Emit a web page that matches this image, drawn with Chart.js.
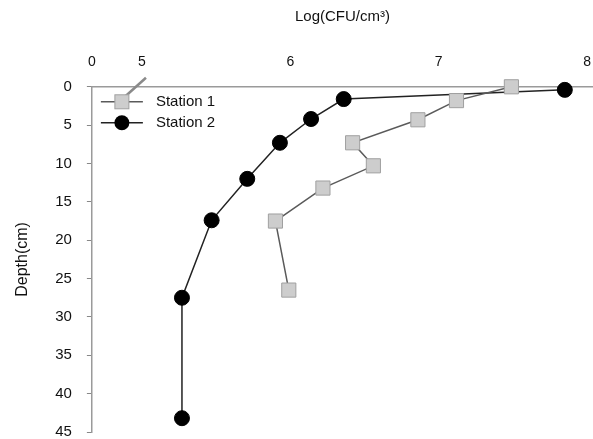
<!DOCTYPE html>
<html>
<head>
<meta charset="utf-8">
<script src="https://cdn.jsdelivr.net/npm/chart.js@4.4.1/dist/chart.umd.min.js"></script>
<style>
  html, body { margin: 0; padding: 0; background: #ffffff; overflow: hidden; }
  #wrap { width: 593px; height: 439px; position: relative; overflow: hidden; }
  #c { position: absolute; left: 0; top: 0; }
</style>
</head>
<body>
<div id="wrap"><canvas id="c" width="604" height="443"></canvas></div>
<script>
// ---- data ----
const seriesNames = ['Station 1', 'Station 2'];
const station1Depth = [0, 1.8, 4.3, 7.3, 10.3, 13.2, 17.5, 26.5];
const station1Log   = [7.49, 7.12, 6.86, 6.42, 6.56, 6.22, 5.90, 5.99];
const station2Depth = [0.4, 1.6, 4.2, 7.3, 12.0, 17.4, 27.5, 43.2];
const station2Log   = [7.85, 6.36, 6.14, 5.93, 5.71, 5.47, 5.27, 5.27];
const xTickValues = [4.663, 5, 6, 7, 8];   // first value is the broken-axis "0"
const xTickLabels = ['0', '5', '6', '7', '8'];
const yTickValues = [0, 5, 10, 15, 20, 25, 30, 35, 40, 45];
const xTitle = 'Log(CFU/cm\u00B3)';
const yTitle = 'Depth(cm)';

const toPts = (xs, ys) => xs.map((v, i) => ({ x: v, y: ys[i] }));

const FONT = "'Liberation Sans', Arial, sans-serif";

const breakAndLegend = {
  id: 'breakAndLegend',
  afterDraw(chart) {
    const ctx = chart.ctx;
    const xs = chart.scales.x, ys = chart.scales.y;
    // axis break slash
    const bx = xs.getPixelForValue(4.96);
    const by = ys.getPixelForValue(0);
    ctx.save();
    ctx.strokeStyle = '#8a8a8a';
    ctx.lineWidth = 2.5;
    ctx.beginPath();
    ctx.moveTo(bx - 10, by + 9);
    ctx.lineTo(bx + 10, by - 9);
    ctx.stroke();
    // legend
    const ds = chart.data.datasets;
    const lx = chart.chartArea.left + 9, ly = chart.chartArea.top + 15;
    ds.forEach((d, i) => {
      const y = ly + i * 21;
      ctx.strokeStyle = d.borderColor;
      ctx.lineWidth = 1.5;
      ctx.beginPath();
      ctx.moveTo(lx, y); ctx.lineTo(lx + 42, y); ctx.stroke();
      ctx.fillStyle = d.pointBackgroundColor;
      ctx.strokeStyle = d.pointBorderColor;
      ctx.lineWidth = 1;
      if (d.pointStyle === 'rect') {
        ctx.fillRect(lx + 14, y - 7, 14, 14);
        ctx.strokeRect(lx + 14, y - 7, 14, 14);
      } else {
        ctx.beginPath(); ctx.arc(lx + 21, y, 7.5, 0, Math.PI * 2); ctx.fill();
      }
      ctx.fillStyle = '#111';
      ctx.font = '15px ' + FONT;
      ctx.textBaseline = 'middle';
      ctx.textAlign = 'left';
      ctx.fillText(d.label, lx + 55, y);
    });
    ctx.restore();
  }
};

new Chart(document.getElementById('c'), {
  type: 'line',
  data: {
    datasets: [
      {
        label: seriesNames[0],
        data: toPts(station1Log, station1Depth),
        borderColor: '#5a5a5a',
        borderWidth: 1.5,
        pointStyle: 'rect',
        pointRadius: 10,
        pointBackgroundColor: '#cdcdcd',
        pointBorderColor: '#a0a0a0',
        pointBorderWidth: 1,
        tension: 0,
        clip: false
      },
      {
        label: seriesNames[1],
        data: toPts(station2Log, station2Depth),
        borderColor: '#222222',
        borderWidth: 1.5,
        pointStyle: 'circle',
        pointRadius: 7.5,
        pointBackgroundColor: '#000000',
        pointBorderColor: '#000000',
        pointBorderWidth: 1,
        tension: 0,
        clip: false
      }
    ]
  },
  options: {
    responsive: false,
    animation: false,
    layout: { padding: { top: 8, right: 0, bottom: 4, left: 13 } },
    plugins: { legend: { display: false }, tooltip: { enabled: false } },
    scales: {
      x: {
        type: 'linear',
        position: 'top',
        min: xTickValues[0],
        max: 8.04,
        afterBuildTicks(scale) { scale.ticks = xTickValues.map(v => ({ value: v })); },
        afterFit(scale) { scale.paddingLeft = 0; scale.paddingRight = 0; },
        ticks: {
          callback(v) { const i = xTickValues.indexOf(v); return i >= 0 ? xTickLabels[i] : ''; },
          font: { family: FONT, size: 14 },
          color: '#111',
          padding: 8,
          maxRotation: 0,
          autoSkip: false
        },
        grid: { display: false },
        border: { display: true, color: '#9a9a9a', width: 1.5, dash: [2, 1] },
        title: { display: true, text: xTitle, font: { family: FONT, size: 15 }, color: '#111', padding: { top: 0, bottom: 20 } }
      },
      y: {
        type: 'linear',
        reverse: true,
        min: 0,
        max: 45,
        afterBuildTicks(scale) { scale.ticks = yTickValues.map(v => ({ value: v })); },
        afterFit(scale) { scale.paddingTop = 0; scale.paddingBottom = 0; },
        ticks: {
          font: { family: FONT, size: 15 },
          color: '#111',
          padding: 15,
          autoSkip: false
        },
        grid: { display: true, drawOnChartArea: false, drawTicks: true, tickLength: 5, color: '#888' },
        border: { display: true, color: '#9a9a9a', width: 1.5, dash: [2, 1] },
        title: { display: true, text: yTitle, font: { family: FONT, size: 16 }, color: '#111', padding: { top: 0, bottom: 8 } }
      }
    }
  },
  plugins: [breakAndLegend]
});
</script>
</body>
</html>
